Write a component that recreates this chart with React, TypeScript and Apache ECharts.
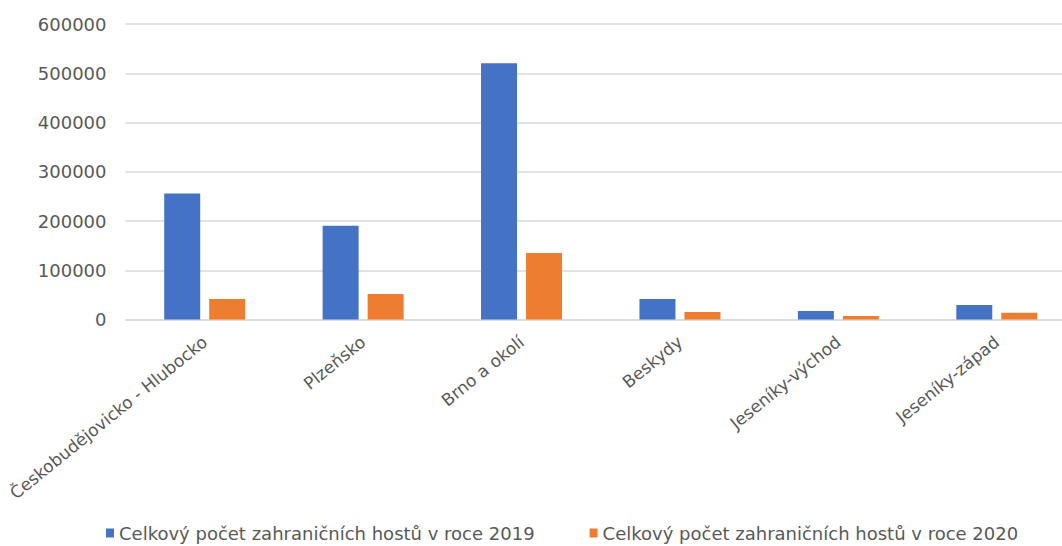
import React, { useEffect, useRef } from "react";
import * as echarts from "echarts";

const categories = [
  "Českobudějovicko - Hlubocko",
  "Plzeňsko",
  "Brno a okolí",
  "Beskydy",
  "Jeseníky-východ",
  "Jeseníky-západ",
];
const series2019Name = "Celkový počet zahraničních hostů v roce 2019";
const series2020Name = "Celkový počet zahraničních hostů v roce 2020";
const values2019 = [256000, 190500, 520500, 41600, 17300, 29400];
const values2020 = [41600, 51800, 135000, 15200, 7100, 13800];
const yTicks = { min: 0, max: 600000, interval: 100000 };

export default function App() {
  const ref = useRef<HTMLDivElement>(null);
  useEffect(() => {
    if (!ref.current) return;
    const chart = echarts.init(ref.current, null, { renderer: "svg" });
    const font = "'DejaVu Sans', sans-serif";
    chart.setOption({
      animation: false,
      backgroundColor: "#ffffff",
      grid: {
        left: 125.5,
        right: 0,
        top: 24,
        bottom: 226.5,
        containLabel: false,
        outerBoundsMode: "none",
      },
      legend: {
        top: 519,
        left: 101,
        itemWidth: 8,
        itemHeight: 9,
        itemGap: 55,
        icon: "rect",
        textStyle: { color: "#595959", fontSize: 18, fontFamily: font },
        data: [series2019Name, series2020Name],
      },
      xAxis: {
        type: "category",
        data: categories,
        axisLine: { show: true, lineStyle: { color: "#d9d9d9", width: 1.5 } },
        axisTick: { show: false },
        axisLabel: {
          rotate: 39,
          interval: 0,
          margin: 20,
          color: "#595959",
          fontSize: 17,
          fontFamily: font,
        },
      },
      yAxis: {
        type: "value",
        min: yTicks.min,
        max: yTicks.max,
        interval: yTicks.interval,
        axisLine: { show: false },
        axisTick: { show: false },
        splitLine: { lineStyle: { color: "#d9d9d9", width: 1.5 } },
        axisLabel: {
          color: "#595959",
          fontSize: 18,
          fontFamily: font,
          margin: 19,
          formatter: (v: number) => String(v),
        },
      },
      series: [
        {
          name: series2019Name,
          type: "bar",
          data: values2019,
          barWidth: 36,
          barGap: "25%",
          itemStyle: { color: "#4472C4" },
        },
        {
          name: series2020Name,
          type: "bar",
          data: values2020,
          barWidth: 36,
          itemStyle: { color: "#ED7D31" },
        },
      ],
    });
    return () => chart.dispose();
  }, []);
  return (
    <div style={{ position: "fixed", left: 0, top: 0, width: 1062, height: 546, overflow: "hidden" }}>
      <div ref={ref} style={{ width: 1076, height: 546 }} />
    </div>
  );
}
